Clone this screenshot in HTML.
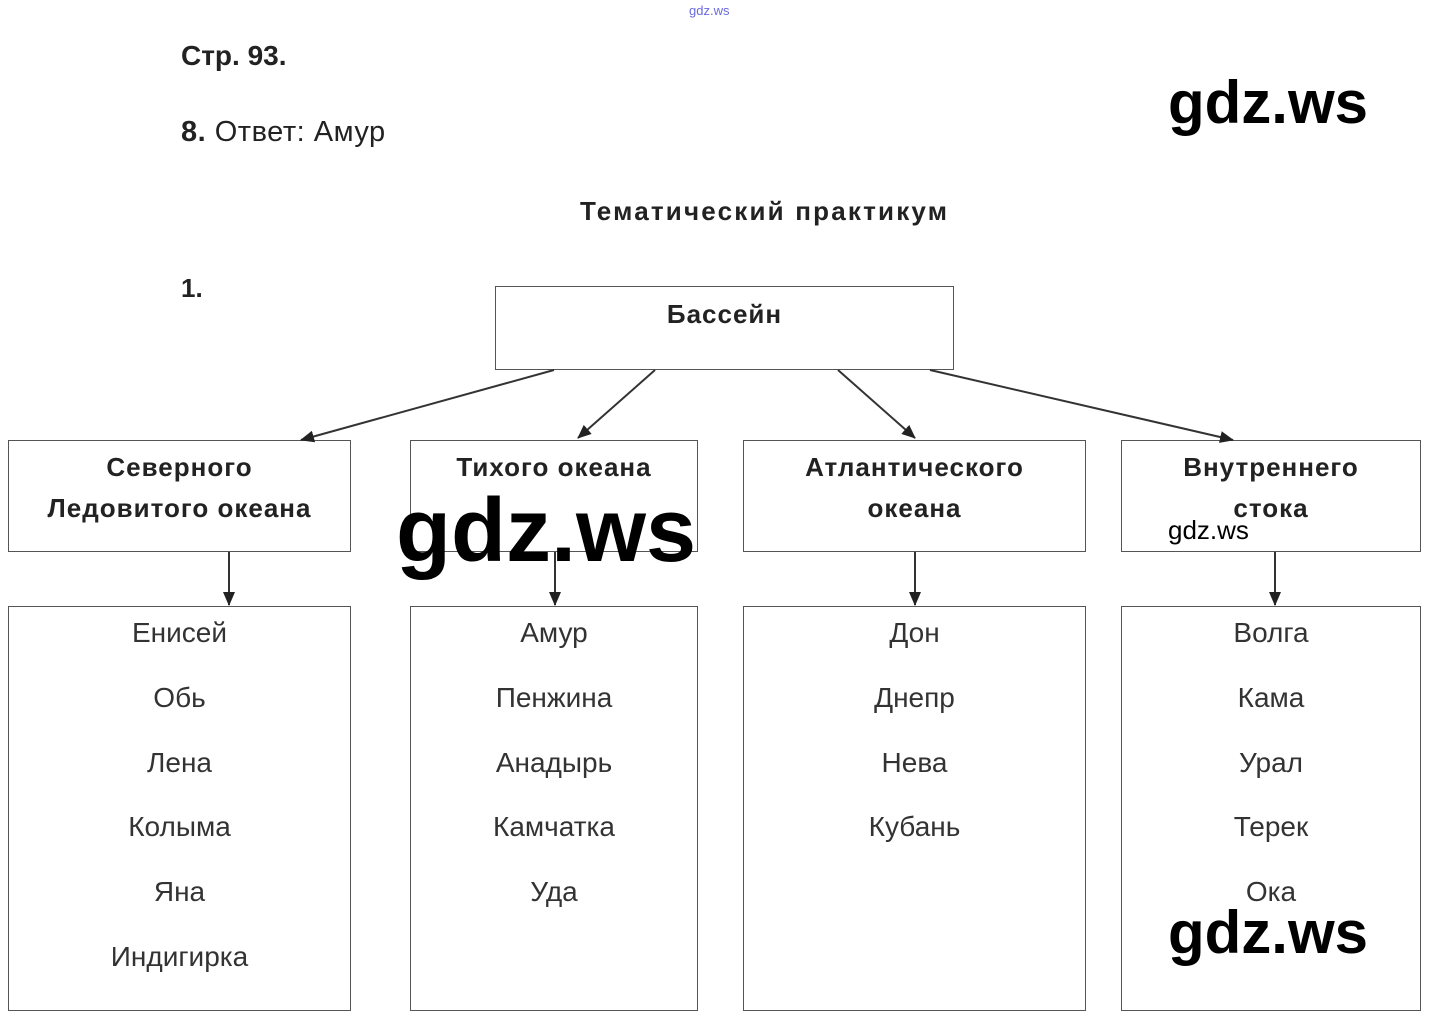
<!DOCTYPE html>
<html><head><meta charset="utf-8"><style>
body{margin:0;width:1433px;height:1025px;background:#fff;position:relative;overflow:hidden;font-family:"Liberation Sans",sans-serif;color:#222}
.t{position:absolute;white-space:nowrap}
.box{position:absolute;border:1.5px solid #555;box-sizing:border-box;background:transparent}
.h{position:absolute;text-align:center;font-weight:bold;font-size:26px;letter-spacing:1px;line-height:41px;color:#222}
.r{position:absolute;text-align:center;font-size:28px;line-height:64.8px;color:#333}
.wm{position:absolute;font-family:"Liberation Sans",sans-serif;font-weight:bold;color:#000;white-space:nowrap}
</style></head><body>
<div class="t" style="left:689px;top:3px;font-size:13px;color:#6a6adf">gdz.ws</div>
<div class="t" style="left:181px;top:40px;font-size:28px;font-weight:bold">Стр. 93.</div>
<div class="t" style="left:181px;top:116px;font-size:29px;letter-spacing:0.5px"><b>8.</b> Ответ: Амур</div>
<div class="t" style="left:580px;top:196px;font-size:26px;font-weight:bold;letter-spacing:2.2px">Тематический практикум</div>
<div class="t" style="left:181px;top:273px;font-size:26px;font-weight:bold">1.</div>

<div class="box" style="left:495px;top:286px;width:459px;height:84px"></div>
<div class="h" style="left:495px;top:294px;width:459px">Бассейн</div>

<div class="box" style="left:8px;top:440px;width:343px;height:112px"></div>
<div class="box" style="left:410px;top:440px;width:288px;height:112px"></div>
<div class="box" style="left:743px;top:440px;width:343px;height:112px"></div>
<div class="box" style="left:1121px;top:440px;width:300px;height:112px"></div>
<div class="h" style="left:8px;top:447px;width:343px">Северного<br>Ледовитого океана</div>
<div class="h" style="left:410px;top:447px;width:288px">Тихого океана</div>
<div class="h" style="left:743px;top:447px;width:343px">Атлантического<br>океана</div>
<div class="h" style="left:1121px;top:447px;width:300px">Внутреннего<br>стока</div>

<div class="box" style="left:8px;top:606px;width:343px;height:405px"></div>
<div class="box" style="left:410px;top:606px;width:288px;height:405px"></div>
<div class="box" style="left:743px;top:606px;width:343px;height:405px"></div>
<div class="box" style="left:1121px;top:606px;width:300px;height:405px"></div>
<div class="r" style="left:8px;top:601px;width:343px">Енисей<br>Обь<br>Лена<br>Колыма<br>Яна<br>Индигирка</div>
<div class="r" style="left:410px;top:601px;width:288px">Амур<br>Пенжина<br>Анадырь<br>Камчатка<br>Уда</div>
<div class="r" style="left:743px;top:601px;width:343px">Дон<br>Днепр<br>Нева<br>Кубань</div>
<div class="r" style="left:1121px;top:601px;width:300px">Волга<br>Кама<br>Урал<br>Терек<br>Ока</div>

<svg style="position:absolute;left:0;top:0" width="1433" height="1025">
<defs><marker id="b" markerWidth="14" markerHeight="12" refX="13" refY="6" orient="auto" markerUnits="userSpaceOnUse"><path d="M0,0 L14,6 L0,12 z" fill="#222"/></marker></defs>
<g stroke="#333" stroke-width="2" fill="none">
<line x1="554" y1="370" x2="301" y2="440" marker-end="url(#b)"/>
<line x1="655" y1="370" x2="578" y2="438" marker-end="url(#b)"/>
<line x1="838" y1="370" x2="915" y2="438" marker-end="url(#b)"/>
<line x1="930" y1="370" x2="1233" y2="440" marker-end="url(#b)"/>
<line x1="229" y1="552" x2="229" y2="605" marker-end="url(#b)"/>
<line x1="555" y1="552" x2="555" y2="605" marker-end="url(#b)"/>
<line x1="915" y1="552" x2="915" y2="605" marker-end="url(#b)"/>
<line x1="1275" y1="552" x2="1275" y2="605" marker-end="url(#b)"/>
</g></svg>

<div class="wm" style="left:1168px;top:68px;font-size:60px">gdz.ws</div>
<div class="wm" style="left:396px;top:480px;font-size:90px">gdz.ws</div>
<div class="wm" style="left:1168px;top:515px;font-size:26px;font-weight:normal">gdz.ws</div>
<div class="wm" style="left:1168px;top:898px;font-size:60px">gdz.ws</div>
</body></html>
